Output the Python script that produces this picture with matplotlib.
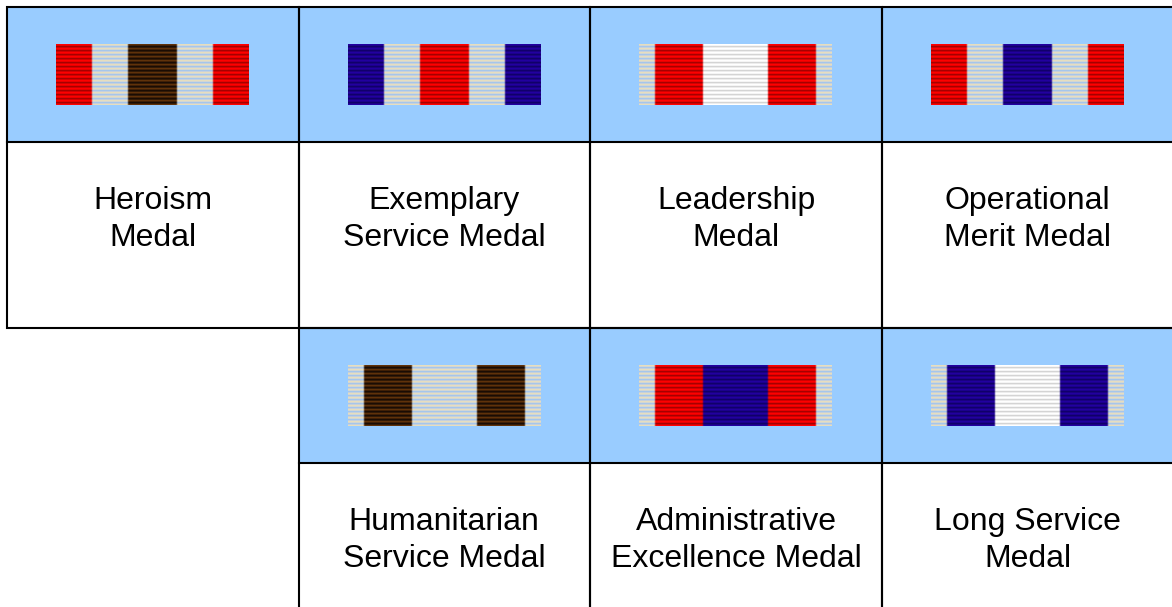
import numpy as np
import matplotlib
matplotlib.use("Agg")
import matplotlib.pyplot as plt

# top row first, then bottom row
medal_names = ["Heroism\nMedal", "Exemplary\nService Medal", "Leadership\nMedal", "Operational\nMerit Medal",
               "Humanitarian\nService Medal", "Administrative\nExcellence Medal", "Long Service\nMedal"]
medal_cols = [0, 1, 2, 3, 1, 2, 3]
medal_rows = [0, 0, 0, 0, 1, 1, 1]

# stripes across each ribbon, with their widths in ribbon pixels
ribbon_colors = [
    ["red", "silver", "brown", "silver", "red"],
    ["blue", "silver", "red", "silver", "blue"],
    ["silver", "red", "white", "red", "silver"],
    ["red", "silver", "blue", "silver", "red"],
    ["silver", "brown", "silver", "brown", "silver"],
    ["silver", "red", "blue", "red", "silver"],
    ["silver", "blue", "white", "blue", "silver"],
]
ribbon_widths = [
    [36, 36, 49, 36, 36],
    [36, 36, 49, 36, 36],
    [16, 48, 65, 48, 16],
    [36, 36, 49, 36, 36],
    [16, 48, 65, 48, 16],
    [16, 48, 65, 48, 16],
    [16, 48, 65, 48, 16],
]

# four rows of thread for each colour, they repeat down the ribbon
threads = {
    "red": [(255, 0, 0), (230, 0, 0), (165, 0, 0), (210, 0, 0)],
    "silver": [(230, 222, 190), (210, 214, 212), (165, 198, 235), (198, 208, 220)],
    "brown": [(96, 50, 10), (64, 32, 6), (26, 12, 4), (50, 26, 6)],
    "blue": [(34, 0, 160), (28, 0, 140), (16, 0, 105), (26, 0, 130)],
    "white": [(255, 255, 255), (245, 245, 245), (212, 212, 212), (238, 238, 238)],
}

col_edges = [7, 298.5, 590, 882, 1176]
row_edges = [7, 328, 607]
ribbon_lefts = [56, 348, 639, 931]
header_h = 135
ribbon_w, ribbon_h = 193, 61
ribbon_top = 37


def ribbon_image(colors, widths):
    img = np.zeros((ribbon_h, ribbon_w, 3))
    left = 0
    for name, w in zip(colors, widths):
        rows = threads[name]
        for y in range(ribbon_h):
            img[y, left:left + w] = rows[y % len(rows)]
        left += w
    # soften the joins between stripes a little
    soft = img.copy()
    soft[:, 1:-1] = 0.2 * img[:, :-2] + 0.6 * img[:, 1:-1] + 0.2 * img[:, 2:]
    return soft.astype(np.uint8)


fig = plt.figure(figsize=(11.72, 6.07), dpi=100)
ax = fig.add_axes([0, 0, 1, 1])

for i, name in enumerate(medal_names):
    x0, x1 = col_edges[medal_cols[i]], col_edges[medal_cols[i] + 1]
    y0 = row_edges[medal_rows[i]]
    y1 = row_edges[medal_rows[i] + 1] if medal_rows[i] == 0 else 640
    ax.add_patch(plt.Rectangle((x0, y0), x1 - x0, header_h, fc="#99ccff", ec="none", zorder=1))
    # cell and header frame
    ax.add_patch(plt.Rectangle((x0, y0), x1 - x0, y1 - y0, fc="none", ec="black", lw=1.5, zorder=3))
    ax.plot([x0, x1], [y0 + header_h, y0 + header_h], color="black", lw=1.5, zorder=3)

    rx = ribbon_lefts[medal_cols[i]]
    ry = y0 + ribbon_top
    ax.imshow(ribbon_image(ribbon_colors[i], ribbon_widths[i]), extent=(rx, rx + ribbon_w, ry + ribbon_h, ry),
              interpolation="nearest", aspect="auto", zorder=2)
    xc = (x0 + x1) / 2 if medal_cols[i] < 3 else 1027.5
    ax.text(xc, y0 + header_h + 77.5, name, ha="center", va="center", fontsize=23,
            family="Liberation Sans", color="black", linespacing=1.33, zorder=4)

ax.set_xlim(0, 1172)
ax.set_ylim(607, 0)
ax.axis("off")
fig.savefig("out.png", dpi=100)
